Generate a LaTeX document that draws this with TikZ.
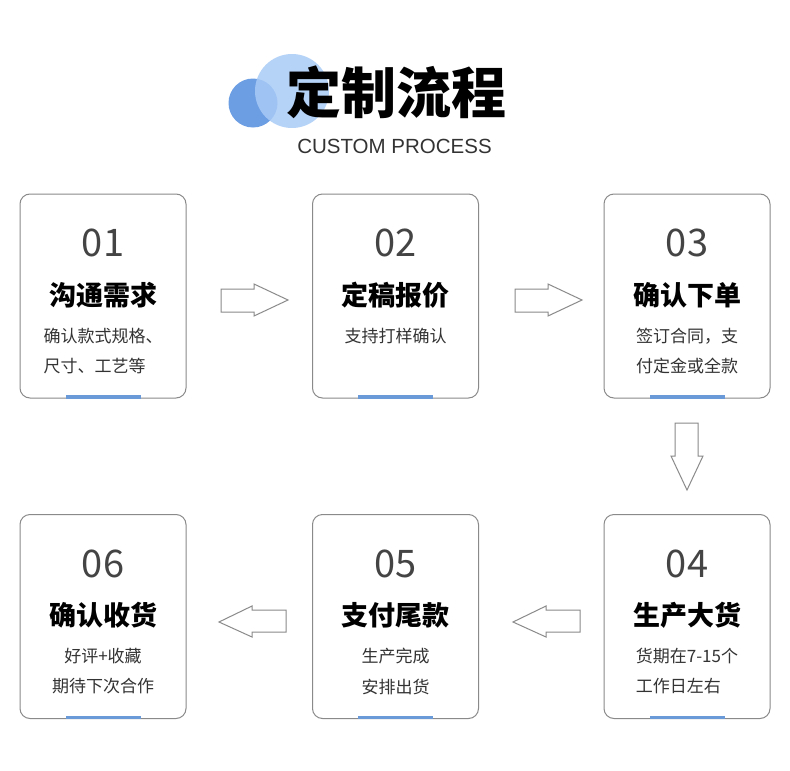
\documentclass[tikz,border=0pt]{standalone}
\usepackage{fontspec}
\setmainfont{Liberation Sans}
\newfontfamily\cjk{Noto Sans CJK SC}
\definecolor{boxgray}{HTML}{8A8A8A}
\definecolor{barblue}{HTML}{6A9BD8}
\definecolor{numgray}{HTML}{444444}
\definecolor{subgray}{HTML}{333333}
\definecolor{cdark}{HTML}{6C9EE3}
\definecolor{clight}{HTML}{A9CBF6}
\begin{document}
\begin{tikzpicture}[x=1pt,y=-1pt,
  stepbox/.style={draw=boxgray,line width=1pt,rounded corners=10pt,minimum width=166pt,minimum height=204pt,inner sep=0pt},
  numtxt/.style={font=\cjk\fontsize{38}{38}\selectfont,text=numgray,inner sep=0pt,anchor=center},
  ttltxt/.style={font=\cjk\bfseries\fontsize{27}{27}\selectfont,text=black,inner sep=0pt,anchor=center},
  subtxt/.style={font=\cjk\fontsize{17}{17}\selectfont,text=subgray,inner sep=0pt},
  arrowshape/.style={draw=boxgray,line width=1pt,line join=miter,fill=white},
  bar/.style={fill=barblue}]
\useasboundingbox (0,0) rectangle (790,771);
\fill[white] (0,0) rectangle (790,771);
% heading
\fill[cdark] (253,103) circle (24.5);
\fill[clight,opacity=0.85] (292,91) circle (37);
\node[font=\cjk\fontsize{55}{55}\selectfont\bfseries,inner sep=0pt] (title) at (396.5,92) {定制流程};
\node[font=\fontsize{20.5}{20.5}\selectfont,text=subgray,inner sep=0pt] (subtitle) at (394.5,146) {CUSTOM PROCESS};
% boxes
\foreach \n/\x/\y/\num/\ttl/\la/\lb/\al in {
  1/103/296/01/沟通需求/确认款式规格、/尺寸、工艺等/west,
  2/395.5/296/02/定稿报价/支持打样确认//center,
  3/687/296/03/确认下单/签订合同，支/付定金或全款/west,
  4/687/616.5/04/生产大货/货期在7-15个/工作日左右/west,
  5/395.5/616.5/05/支付尾款/生产完成/安排出货/west,
  6/103/616.5/06/确认收货/好评+收藏/期待下次合作/center}{
  \node[stepbox] (b\n) at (\x,\y) {};
  \fill[bar] (\x-37.5,\y+99) rectangle (\x+37.5,\y+102.5);
  \node[numtxt] (n\n) at (\x,\y-53) {\num};
  \node[ttltxt] (t\n) at (\x,\y-1) {\ttl};
  \node[subtxt,anchor=center] (s\n) at (\x,\y+40) {\la};
  \node[subtxt,anchor=\al] (u\n) at (s\n.\al |- 0,\y+70) {\lb};
}
% arrows right
\foreach \dx in {0,294}{
  \draw[arrowshape] (221+\dx,289) -- (254+\dx,289) -- (254+\dx,284) -- (288+\dx,300) -- (254+\dx,316) -- (254+\dx,312) -- (221+\dx,312) -- cycle;
}
% arrow down
\draw[arrowshape] (675,423) -- (698,423) -- (698,456) -- (703,456) -- (687,490) -- (671,456) -- (675,456) -- cycle;
% arrows left
\foreach \dx in {0,294}{
  \draw[arrowshape] (219+\dx,622) -- (252+\dx,606) -- (252+\dx,610) -- (286+\dx,610) -- (286+\dx,632) -- (252+\dx,632) -- (252+\dx,637) -- cycle;
}
\end{tikzpicture}
\end{document}
